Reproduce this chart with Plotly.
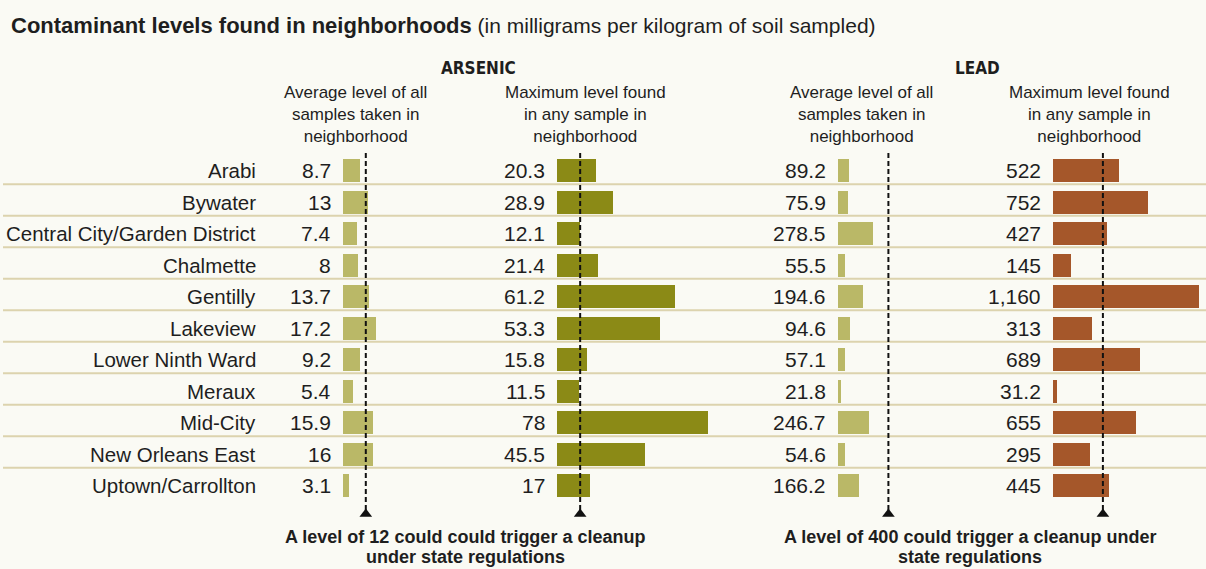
import plotly.graph_objects as go

# ---------------- data ----------------
neighborhoods = ["Arabi", "Bywater", "Central City/Garden District", "Chalmette",
                 "Gentilly", "Lakeview", "Lower Ninth Ward", "Meraux", "Mid-City",
                 "New Orleans East", "Uptown/Carrollton"]
arsenic_avg = [8.7, 13, 7.4, 8, 13.7, 17.2, 9.2, 5.4, 15.9, 16, 3.1]
arsenic_max = [20.3, 28.9, 12.1, 21.4, 61.2, 53.3, 15.8, 11.5, 78, 45.5, 17]
lead_avg = [89.2, 75.9, 278.5, 55.5, 194.6, 94.6, 57.1, 21.8, 246.7, 54.6, 166.2]
lead_max = [522, 752, 427, 145, 1160, 313, 689, 31.2, 655, 295, 445]
arsenic_threshold = 12
lead_threshold = 400

title_bold = "Contaminant levels found in neighborhoods"
title_rest = " (in milligrams per kilogram of soil sampled)"
group_titles = ["ARSENIC", "LEAD"]
col_avg = "Average level of all<br>samples taken in<br>neighborhood"
col_max = "Maximum level found<br>in any sample in<br>neighborhood"
note_arsenic = ["A level of 12 could could trigger a cleanup", "under state regulations"]
note_lead = ["A level of 400 could trigger a cleanup under", "state regulations"]

# ---------------- layout constants ----------------
W, H = 1206, 569
ROW0, PITCH = 170.8, 31.5
BG = "#fafaf4"
TXT = "#1e1e1e"
FONT = "Liberation Sans, Arial, sans-serif"
NARROW = "DejaVu Sans Condensed, Liberation Sans, sans-serif"
LIGHT = "#bab867"
OLIVE = "#8b8a16"
BROWN = "#a5572a"


def fx(px):
    return px / W


def fy(py):
    return 1 - py / H


def ydat(py):
    return (py - ROW0) / PITCH


def fmt(v):
    return f"{v:,.0f}" if float(v).is_integer() else f"{v:,.1f}"


panels = [
    dict(vals=arsenic_avg, thr=arsenic_threshold, zero=343, end=500, scale=1.9, color=LIGHT),
    dict(vals=arsenic_max, thr=arsenic_threshold, zero=557, end=780, scale=1.93, color=OLIVE),
    dict(vals=lead_avg, thr=lead_threshold, zero=838, end=1000, scale=0.126, color=LIGHT),
    dict(vals=lead_max, thr=lead_threshold, zero=1052.5, end=1206, scale=0.126, color=BROWN),
]

idx = list(range(len(neighborhoods)))
fig = go.Figure()
shapes = []
annotations = []

# separators between rows
for i in range(len(neighborhoods) - 1):
    shapes.append(dict(type="line", xref="paper", yref="y", x0=fx(3), x1=1,
                       y0=i + 0.43, y1=i + 0.43,
                       line=dict(color="#dcd3ae", width=2), layer="below"))

layout_axes = {}
for k, p in enumerate(panels):
    n = k + 1
    xname = "x" if n == 1 else f"x{n}"
    axkey = "xaxis" if n == 1 else f"xaxis{n}"
    span = p["end"] - p["zero"]
    layout_axes[axkey] = dict(domain=[fx(p["zero"]), fx(p["end"])], range=[0, span / p["scale"]],
                              visible=False, fixedrange=True, anchor="y")
    fig.add_trace(go.Bar(x=p["vals"], y=idx, orientation="h", width=23 / PITCH,
                         marker=dict(color=p["color"], line=dict(width=0)),
                         xaxis=xname, yaxis="y", hoverinfo="skip", showlegend=False))
    # dashed threshold line
    shapes.append(dict(type="line", xref=xname, yref="y", x0=p["thr"], x1=p["thr"],
                       y0=ydat(153), y1=ydat(510),
                       line=dict(color="#111111", width=2, dash="5px,3px"), layer="above"))
    fig.add_trace(go.Scatter(x=[p["thr"]], y=[ydat(514)], mode="markers",
                             marker=dict(symbol="triangle-up", size=11, color="#111111"),
                             xaxis=xname, yaxis="y", hoverinfo="skip", showlegend=False))
    # value labels
    for i, v in enumerate(p["vals"]):
        annotations.append(dict(xref=xname, yref="y", x=0, y=i, text=fmt(v),
                                xanchor="right", yanchor="middle", xshift=-10,
                                showarrow=False, font=dict(family=FONT, size=21, color=TXT)))

# row labels
for i, name in enumerate(neighborhoods):
    annotations.append(dict(xref="paper", yref="y", x=fx(258), y=i, text=name,
                            xanchor="right", yanchor="middle", showarrow=False,
                            font=dict(family=FONT, size=20.5, color=TXT)))

# title
annotations.append(dict(xref="paper", yref="paper", x=fx(9), y=fy(25),
                        text=f"<b>{title_bold}</b><span style='font-size:21px'>{title_rest}</span>",
                        xanchor="left", yanchor="middle", showarrow=False,
                        font=dict(family=FONT, size=22, color=TXT)))

# group titles
for t, cx in zip(group_titles, [478, 977]):
    annotations.append(dict(xref="paper", yref="paper", x=fx(cx), y=fy(68), text=f"<b>{t}</b>",
                            xanchor="center", yanchor="middle", showarrow=False,
                            font=dict(family=NARROW, size=17, color=TXT)))

# column headers
for t, cx in zip([col_avg, col_max, col_avg, col_max], [355, 585, 861, 1089]):
    annotations.append(dict(xref="paper", yref="paper", x=fx(cx), y=fy(115), text=t,
                            xanchor="center", yanchor="middle", align="center", showarrow=False,
                            font=dict(family=FONT, size=17, color=TXT)))

# footnotes
for lines, cx in [(note_arsenic, 465), (note_lead, 970)]:
    for t, cy in zip(lines, [537, 557]):
        annotations.append(dict(xref="paper", yref="paper", x=fx(cx), y=fy(cy), text=f"<b>{t}</b>",
                                xanchor="center", yanchor="middle", showarrow=False,
                                font=dict(family=FONT, size=18, color=TXT)))

fig.update_layout(
    width=W, height=H, autosize=False,
    margin=dict(l=0, r=0, t=0, b=0, pad=0),
    paper_bgcolor=BG, plot_bgcolor=BG,
    yaxis=dict(range=[ydat(H), ydat(0)], visible=False, fixedrange=True, domain=[0, 1]),
    shapes=shapes, annotations=annotations,
    bargap=0, showlegend=False,
    **layout_axes,
)

fig.write_html("out.html", config=dict(displayModeBar=False),
               post_script="document.body.style.margin='0';document.body.style.background='" + BG + "';")
